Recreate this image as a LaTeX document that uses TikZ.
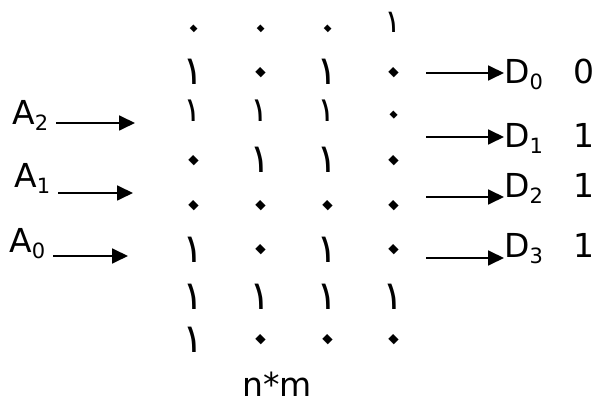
\documentclass[tikz,border=0pt]{standalone}
\usepackage{fontspec}
\setmainfont{DejaVu Sans}
\newfontfamily\arabicfont[Script=Arabic]{DejaVu Sans}
\usetikzlibrary{arrows.meta}
\newcommand\mysub[1]{\raisebox{-6pt}{\fontsize{21}{22}\selectfont #1}}
% #1 digit, #2 size of one, #3 size of zero, #4 lowering of zero
\newcommand\ad[4]{\ifnum#1=1 {\fontsize{#2}{#2}\selectfont ١}\else{\fontsize{#3}{#3}\selectfont\kern0.2em\raisebox{-#4}{\rotatebox[origin=c]{45}{٠}}}\fi}
\begin{document}
\begin{tikzpicture}[x=1pt,y=-1pt,
  lbl/.style={font=\fontsize{33}{38}\selectfont, inner sep=0pt, anchor=base west},
  dig/.style={font=\arabicfont, inner sep=0pt, anchor=base},
  arr/.style={line width=1.8pt, -{Triangle[length=16pt,width=15pt]}}]
\useasboundingbox (0,0) rectangle (594,403);
% grid of digits (y = baseline)
\foreach \r/\y/\p/\q/\l/\a/\b/\c/\d in {1/33/32/48/8pt/0/0/0/1, 2/85/40/64/4pt/1/0/1/0, 3/122/34/50/6pt/1/1/1/0, 4/173/40/64/4pt/0/1/1/0, 5/218/40/64/4pt/0/0/0/0, 6/262/40/64/4pt/1/0/1/0, 7/309/40/64/4pt/1/1/1/1, 8/352/40/64/4pt/1/0/0/0}{
  \node[dig] (g\r-1) at (193,\y) {\ad{\a}{\p}{\q}{\l}};
  \node[dig] (g\r-2) at (260,\y) {\ad{\b}{\p}{\q}{\l}};
  \node[dig] (g\r-3) at (327,\y) {\ad{\c}{\p}{\q}{\l}};
  \node[dig] (g\r-4) at (393,\y) {\ad{\d}{\p}{\q}{\l}};
}
\node[lbl, anchor=base] (nm) at (277,396) {n*m};
% inputs
\node[lbl] (A2) at (12,125) {A\mysub{2}};
\node[lbl] (A1) at (14,188) {A\mysub{1}};
\node[lbl] (A0) at (9,253) {A\mysub{0}};
\coordinate (a2) at (135,123);
\coordinate (a1) at (133,193);
\coordinate (a0) at (128,256);
\draw[arr, shorten <=8pt] (A2.east |- a2) -- (a2);
\draw[arr, shorten <=8pt] (A1.east |- a1) -- (a1);
\draw[arr, shorten <=8pt] (A0.east |- a0) -- (a0);
% outputs
\node[lbl] (D0) at (504,84) {D\mysub{0}};
\node[lbl] (D1) at (504,148) {D\mysub{1}};
\node[lbl] (D2) at (504,198) {D\mysub{2}};
\node[lbl] (D3) at (504,258) {D\mysub{3}};
\node[lbl] (V0) at (573,84) {0};
\node[lbl] (V1) at (573,148) {1};
\node[lbl] (V2) at (573,198) {1};
\node[lbl] (V3) at (573,258) {1};
\coordinate (d0) at (426,73);
\coordinate (d1) at (426,137);
\coordinate (d2) at (426,197);
\coordinate (d3) at (426,258);
\draw[arr] (d0) -- (D0.west |- d0);
\draw[arr] (d1) -- (D1.west |- d1);
\draw[arr] (d2) -- (D2.west |- d2);
\draw[arr] (d3) -- (D3.west |- d3);
\end{tikzpicture}
\end{document}
